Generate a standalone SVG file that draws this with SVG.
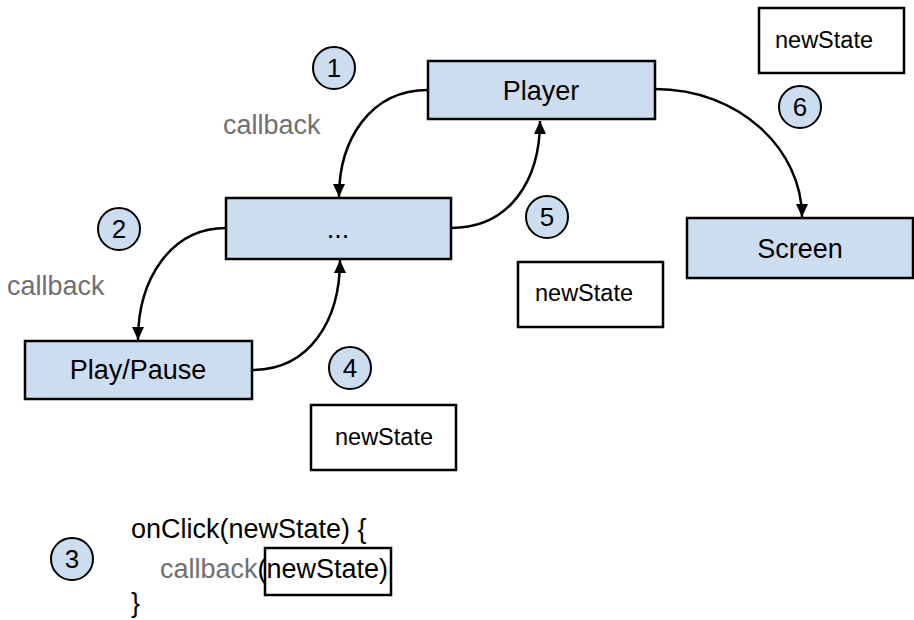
<svg xmlns="http://www.w3.org/2000/svg" width="914" height="620" viewBox="0 0 914 620">
<defs>
<marker id="ah" viewBox="0 0 13 12" refX="13" refY="6" markerWidth="13" markerHeight="12" markerUnits="userSpaceOnUse" orient="auto">
<path d="M0,0 L13,6 L0,12 z" fill="#000"/>
</marker>
<style>
.node{fill:#CCDDF0;stroke:#000;stroke-width:2.5}
.plain{fill:#fff;stroke:#000;stroke-width:2.5}
.step{fill:#CCDDF0;stroke:#000;stroke-width:2}
.lbl{font-family:"Liberation Sans",Arial,sans-serif;font-size:27px;fill:#000}
.num{font-family:"Liberation Sans",Arial,sans-serif;font-size:26px;fill:#000;text-anchor:middle}
.gray{font-family:"Liberation Sans",Arial,sans-serif;font-size:27px;fill:#707070}
.ns{font-family:"Liberation Sans",Arial,sans-serif;font-size:23.5px;fill:#000;text-anchor:middle}
.conn{fill:none;stroke:#000;stroke-width:2.5;marker-end:url(#ah)}
</style>
</defs>
<rect width="914" height="620" fill="#fff"/>
<g id="connectors">
<path class="conn" d="M428,90 C370,90 339,140 339,197"/>
<path class="conn" d="M451,228 C510,228 540,180 540,121"/>
<path class="conn" d="M226,228 C170,228 138,280 138,340"/>
<path class="conn" d="M252,370 C310,370 340,320 340,260"/>
<path class="conn" d="M655,89 C740,89 802,150 802,217"/>
</g>
<g id="player"><rect class="node" x="428" y="61" width="227" height="58"/><text class="lbl" x="541" y="100" text-anchor="middle">Player</text></g>
<g id="middle"><rect class="node" x="226" y="198" width="225" height="61"/><text class="lbl" x="338" y="238" text-anchor="middle">...</text></g>
<g id="playpause"><rect class="node" x="25" y="341" width="227" height="58"/><text class="lbl" x="138" y="379" text-anchor="middle">Play/Pause</text></g>
<g id="screen"><rect class="node" x="687" y="218" width="226" height="60"/><text class="lbl" x="800" y="258" text-anchor="middle">Screen</text></g>
<g id="newstate6"><rect class="plain" x="759" y="8" width="145" height="65"/><text class="ns" x="824" y="48">newState</text></g>
<g id="newstate5"><rect class="plain" x="518" y="262" width="145" height="65"/><text class="ns" x="584" y="301">newState</text></g>
<g id="newstate4"><rect class="plain" x="311" y="405" width="145" height="65"/><text class="ns" x="384" y="445">newState</text></g>
<g id="callback1"><text class="gray" x="223" y="134">callback</text></g>
<g id="callback2"><text class="gray" x="7" y="295">callback</text></g>
<g id="step1"><circle class="step" cx="334" cy="68" r="21"/><text class="num" x="334" y="77">1</text></g>
<g id="step2"><circle class="step" cx="119" cy="229" r="21"/><text class="num" x="119" y="238">2</text></g>
<g id="step3"><circle class="step" cx="72" cy="559" r="21"/><text class="num" x="72" y="568">3</text></g>
<g id="step4"><circle class="step" cx="350" cy="368" r="21"/><text class="num" x="350" y="377">4</text></g>
<g id="step5"><circle class="step" cx="547" cy="217" r="21"/><text class="num" x="547" y="226">5</text></g>
<g id="step6"><circle class="step" cx="800" cy="107" r="21"/><text class="num" x="800" y="116">6</text></g>
<g id="code">
<text class="lbl" x="131" y="538">onClick(newState) {</text>
<text class="lbl" x="160" y="578"><tspan fill="#707070">callback</tspan>(newState)</text>
<rect x="265" y="548" width="126" height="47" fill="none" stroke="#000" stroke-width="2.5"/>
<text class="lbl" x="131" y="612">}</text>
</g>
</svg>
